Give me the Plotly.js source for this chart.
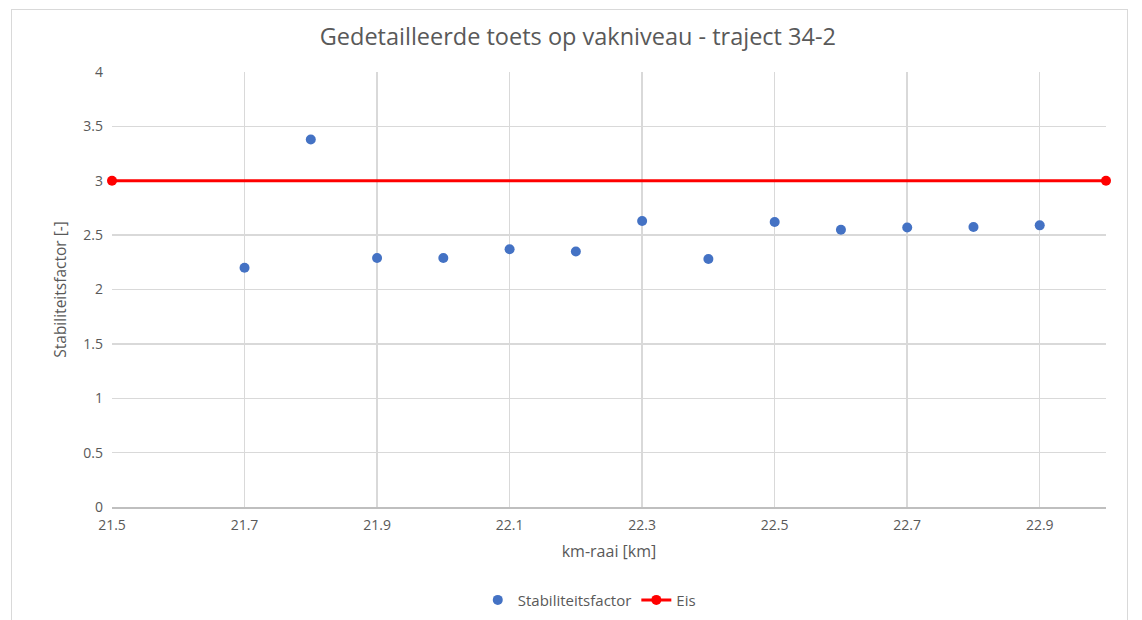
<!DOCTYPE html>
<html><head><meta charset="utf-8">
<script src="https://cdn.plot.ly/plotly-3.0.1.min.js"></script>
<style>
html,body{margin:0;padding:0;background:#fff;}
#frame{position:absolute;left:11px;top:9px;width:1117px;height:620px;border:1px solid #d9d9d9;border-bottom:none;box-sizing:border-box;}
#chart{position:absolute;left:0;top:0;width:1142px;height:620px;}
</style></head>
<body>
<div id="frame"></div>
<div id="chart"></div>
<script>
const kmRaai = [21.7, 21.8, 21.9, 22.0, 22.1, 22.2, 22.3, 22.4, 22.5, 22.6, 22.7, 22.8, 22.9];
const stabiliteitsfactor = [2.20, 3.38, 2.29, 2.29, 2.37, 2.35, 2.63, 2.28, 2.62, 2.55, 2.57, 2.575, 2.59];
const eisX = [21.5, 23.0];
const eisY = [3, 3];

const fontFam = '"Open Sans", "Noto Sans", sans-serif';
const grey = '#595959';

const traces = [
  {x: kmRaai, y: stabiliteitsfactor, type: 'scatter', mode: 'markers', name: 'Stabiliteitsfactor',
   marker: {color: '#4472C4', size: 10}},
  {x: eisX, y: eisY, type: 'scatter', mode: 'lines+markers', name: 'Eis',
   line: {color: '#FF0000', width: 3}, marker: {color: '#FF0000', size: 10}, cliponaxis: false}
];

const layout = {
  width: 1142, height: 620,
  margin: {l: 112, r: 36, t: 72, b: 113},
  paper_bgcolor: 'rgba(0,0,0,0)', plot_bgcolor: '#fff',
  font: {family: fontFam, color: grey, size: 14},
  title: {text: 'Gedetailleerde toets op vakniveau - traject 34-2', x: 0.506, xref: 'container', xanchor: 'center',
          y: 0.94, yref: 'container', yanchor: 'middle', font: {size: 23.5, color: grey, family: fontFam}},
  xaxis: {range: [21.5, 23.0], tick0: 21.5, dtick: 0.2, tickformat: '.1f',
          showgrid: true, gridcolor: '#d9d9d9', gridwidth: 1.5, zeroline: false,
          showline: true, linecolor: '#bfbfbf', linewidth: 1.5, ticks: '',
          tickfont: {size: 14, color: grey}, ticklabelstandoff: 5,
          title: {text: 'km-raai [km]', font: {size: 16, color: grey}, standoff: 12}},
  yaxis: {range: [0, 4], dtick: 0.5, showgrid: true, gridcolor: '#d9d9d9', gridwidth: 1.5, zeroline: false,
          showline: false, ticks: '', tickfont: {size: 14, color: grey}, ticklabelstandoff: 8,
          title: {text: 'Stabiliteitsfactor [-]', font: {size: 15.5, color: grey}, standoff: 12}},
  showlegend: true,
  legend: {orientation: 'h', x: 0.516, xref: 'container', xanchor: 'center', y: 0.032, yref: 'container', yanchor: 'middle',
           font: {size: 15, color: grey}, itemwidth: 30},
};

Plotly.newPlot('chart', traces, layout, {displayModeBar: false, staticPlot: true});
</script>
</body></html>
